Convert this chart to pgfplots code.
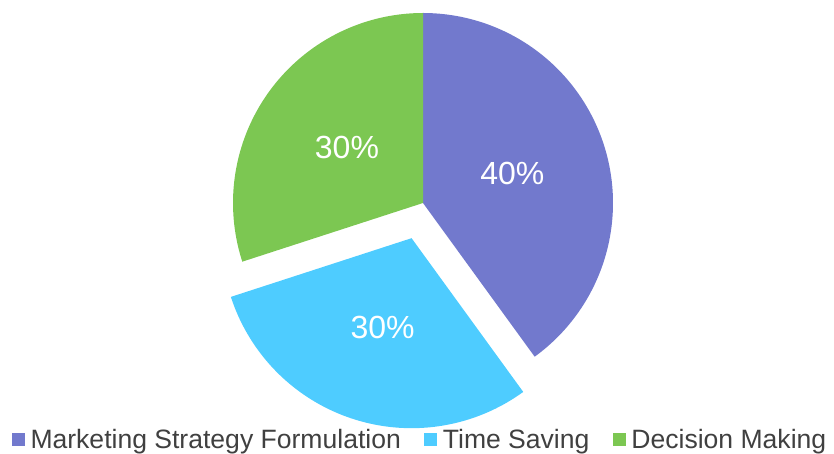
\documentclass[border=0pt]{standalone}
\usepackage{pgfplots}
\pgfplotsset{compat=1.18}
\usepackage{fontspec}
\setmainfont{Liberation Sans}
\definecolor{cA}{RGB}{114,121,205}
\definecolor{cB}{RGB}{78,204,255}
\definecolor{cC}{RGB}{124,199,82}
\definecolor{legendgray}{RGB}{64,64,64}
\begin{document}
\begin{tikzpicture}
\useasboundingbox (0,0) rectangle (834pt,454pt);
% data (percent)
\def\vA{40}\def\vB{30}\def\vC{30}
\pgfmathsetmacro{\aZero}{90}
\pgfmathsetmacro{\aOne}{\aZero-3.6*\vA}
\pgfmathsetmacro{\aTwo}{\aOne-3.6*\vB}
\pgfmathsetmacro{\aThree}{\aTwo-3.6*\vC}
\def\cx{423}\def\cy{251}\def\R{190}\def\ex{37}\def\lr{94}
\pgfmathsetmacro{\mA}{(\aZero+\aOne)/2}
\pgfmathsetmacro{\mB}{(\aOne+\aTwo)/2}
\pgfmathsetmacro{\mC}{(\aTwo+\aThree)/2}
\pgfmathsetmacro{\bx}{\cx+\ex*cos(\mB)}
\pgfmathsetmacro{\by}{\cy+\ex*sin(\mB)}
\pgfmathsetmacro{\lAx}{\cx+\lr*cos(\mA)}\pgfmathsetmacro{\lAy}{\cy+\lr*sin(\mA)}
\pgfmathsetmacro{\lBx}{\bx+\lr*cos(\mB)}\pgfmathsetmacro{\lBy}{\by+\lr*sin(\mB)}
\pgfmathsetmacro{\lCx}{\cx+\lr*cos(\mC)}\pgfmathsetmacro{\lCy}{\cy+\lr*sin(\mC)}
\begin{axis}[
  at={(0,0)}, anchor=south west,
  width=834pt, height=454pt, scale only axis,
  xmin=0, xmax=834, ymin=0, ymax=454,
  hide axis, clip=false,
  legend columns=3,
  legend cell align=left,
  legend image code/.code={\fill[#1] (0pt,-6.5pt) rectangle (13pt,6.5pt);},
  legend style={draw=none, fill=none, at={(axis cs:12,14)}, anchor=west,
    inner sep=0pt, outer sep=0pt,
    nodes={inner sep=0pt, text=legendgray, font=\fontsize{26.55}{30}\selectfont},
    column sep=5.5pt,
    /tikz/every even column/.append style={column sep=23.5pt}},
]
\addplot[fill=cA, draw=none, domain=\aOne:\aZero, samples=120, variable=\t]
  ({\cx+\R*cos(\t)}, {\cy+\R*sin(\t)}) -- (axis cs:\cx,\cy) -- cycle;
\addlegendentry{Marketing Strategy Formulation}
\addplot[fill=cB, draw=none, domain=\aTwo:\aOne, samples=90, variable=\t]
  ({\bx+\R*cos(\t)}, {\by+\R*sin(\t)}) -- (axis cs:\bx,\by) -- cycle;
\addlegendentry{Time Saving}
\addplot[fill=cC, draw=none, domain=\aThree:\aTwo, samples=90, variable=\t]
  ({\cx+\R*cos(\t)}, {\cy+\R*sin(\t)}) -- (axis cs:\cx,\cy) -- cycle;
\addlegendentry{Decision Making}
\node[text=white, font=\fontsize{32}{36}\selectfont] at (axis cs:\lAx,\lAy) {\vA\%};
\node[text=white, font=\fontsize{32}{36}\selectfont] at (axis cs:\lBx,\lBy) {\vB\%};
\node[text=white, font=\fontsize{32}{36}\selectfont] at (axis cs:\lCx,\lCy) {\vC\%};
\end{axis}
\end{tikzpicture}
\end{document}
